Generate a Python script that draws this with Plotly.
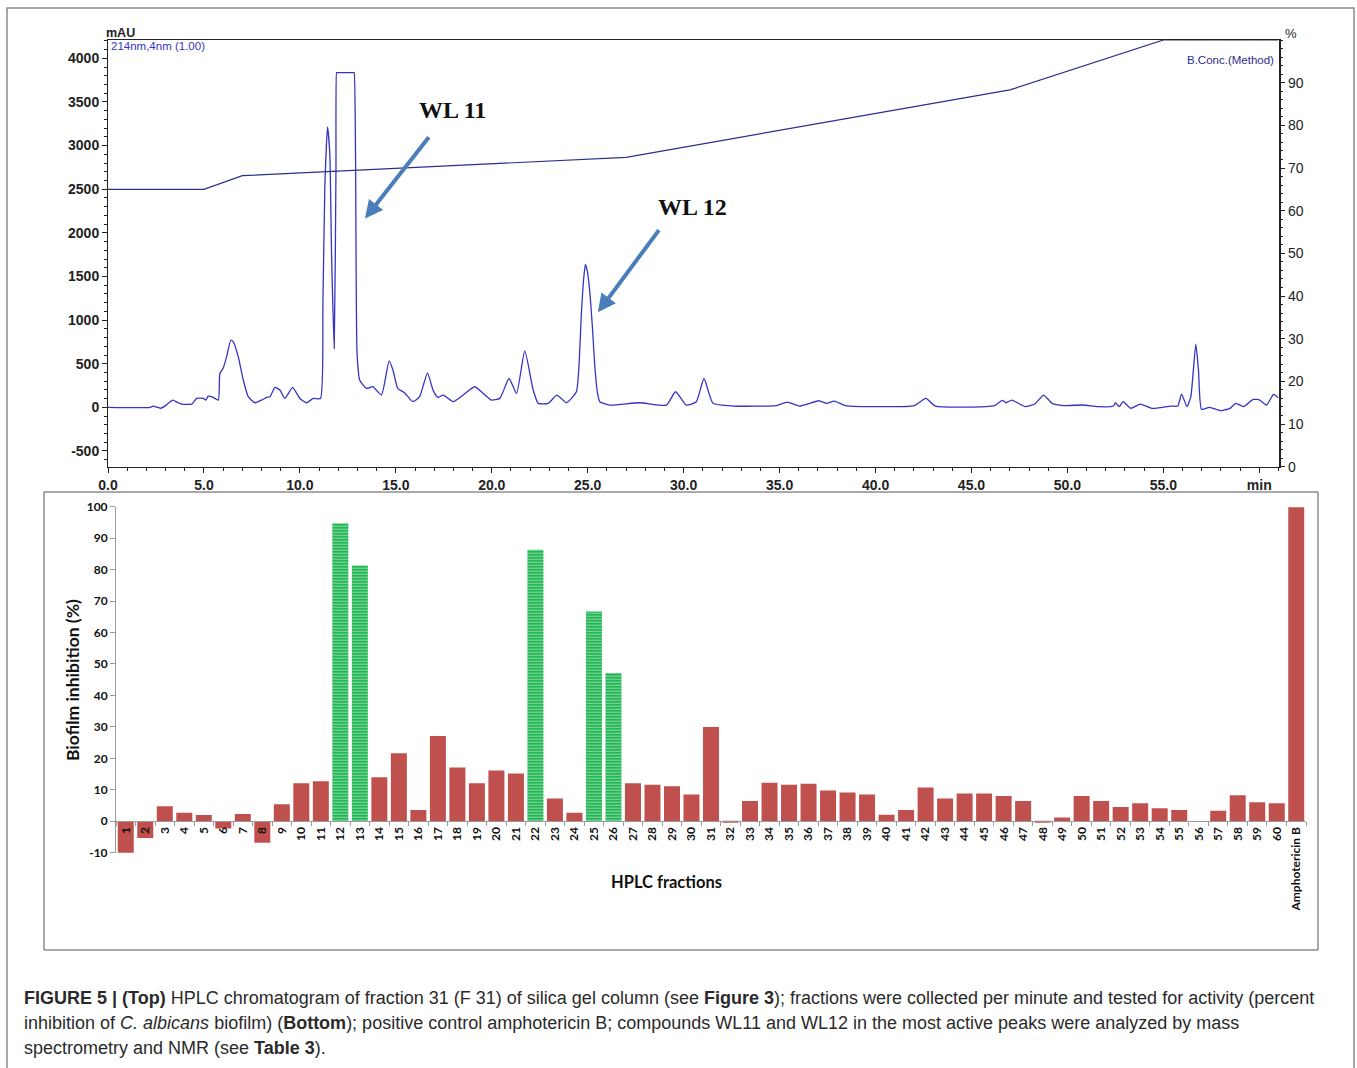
import plotly.graph_objects as go

W, H = 1357, 1068

# ---------------- DATA ----------------
# HPLC chromatogram (214 nm), retention time [min] vs absorbance [mAU]
chrom_time = [0, 2.2, 2.35, 2.5, 2.75, 3.0, 3.37, 3.6, 3.84, 4.37, 4.62, 4.97, 5.1, 5.22, 5.48,
              5.75, 5.83, 6.0, 6.18, 6.4, 6.53, 6.79, 7.05, 7.31, 7.66, 8.0, 8.26, 8.44, 8.7,
              8.96, 9.22, 9.62, 10.0, 10.35, 10.7, 11.07, 11.2, 11.3, 11.44, 11.56, 11.65, 11.79,
              11.88, 11.91, 11.93, 12.81, 12.83, 12.9, 12.98, 13.12, 13.47, 13.8, 14.25, 14.65,
              14.85, 15.1, 15.45, 15.89, 16.24, 16.65, 16.94, 17.2, 17.47, 17.99, 18.51, 19.11,
              19.55, 19.98, 20.42, 20.9, 21.29, 21.72, 22.16, 22.42, 22.94, 23.4, 23.89, 24.41,
              24.55, 24.67, 24.8, 24.88, 24.98, 25.1, 25.25, 25.36, 25.5, 25.63, 26.15, 27.71,
              29.1, 29.58, 30.14, 30.66, 31.06, 31.53, 32.57, 34.83, 35.4, 36.03, 37.04, 37.44,
              37.84, 38.44, 42.02, 42.62, 43.12, 46.21, 46.61, 46.8, 47.1, 47.8, 48.3, 48.76,
              49.2, 49.8, 50.8, 51.6, 52.4, 52.5, 52.7, 52.9, 53.3, 53.8, 54.4, 55.4, 55.75,
              55.95, 56.23, 56.43, 56.69, 56.83, 56.99, 57.39, 57.98, 58.18, 58.48, 58.78,
              59.18, 59.68, 60.02, 60.38, 60.74, 60.98]
chrom_mau = [0, 0, 15, 5, -10, 20, 83, 60, 38, 38, 102, 102, 83, 129, 114,
             83, 388, 449, 579, 769, 750, 579, 312, 122, 53, 83, 114, 122, 229,
             198, 102, 229, 102, 53, 102, 102, 1188, 2521, 3215, 2903, 1760, 674,
             2712, 3836, 3836, 3836, 3836, 2903, 617, 312, 218, 237, 141, 533,
             428, 218, 168, 65, 122, 396, 198, 114, 141, 65, 141, 236,
             160, 84, 103, 331, 160, 647, 198, 46, 46, 141, 53, 179,
             500, 1074, 1500, 1638, 1560, 1341, 900, 503, 180, 65, 26, 53,
             26, 179, 26, 65, 331, 46, 15, 21, 61, 15, 76, 46,
             72, 21, 21, 102, 15, 21, 80, 53, 84, 8, 38, 141,
             46, 21, 27, 8, 15, 53, 8, 65, -11, 38, -11, 15, 15,
             152, 8, 122, 723, 426, -23, 0, -38, -30, -11, 46,
             8, 91, 84, 27, 148, 110]

# Solvent B concentration (method gradient) [%]
grad_time = [0, 5, 7, 27, 47, 55, 61]
grad_pct = [65, 65, 68.2, 72.5, 88.3, 100, 100]

# Chromatogram axis tick labels
x_tick_vals = [0, 5, 10, 15, 20, 25, 30, 35, 40, 45, 50, 55, 60]
x_tick_text = ["0.0", "5.0", "10.0", "15.0", "20.0", "25.0", "30.0", "35.0", "40.0",
               "45.0", "50.0", "55.0", "min"]
mau_tick_vals = [-500, 0, 500, 1000, 1500, 2000, 2500, 3000, 3500, 4000]
mau_tick_text = ["-500", "0", "500", "1000", "1500", "2000", "2500", "3000", "3500", "4000"]
pct_tick_vals = [0, 10, 20, 30, 40, 50, 60, 70, 80, 90]
pct_tick_text = ["0", "10", "20", "30", "40", "50", "60", "70", "80", "90"]

# Biofilm inhibition per HPLC fraction [%]
fractions = [str(i) for i in range(1, 61)] + ["Amphotericin B"]
inhibition = [-10.1, -5.3, 4.8, 2.7, 2.0, -2.3, 2.3, -6.8, 5.4, 12.1,
              12.7, 94.7, 81.3, 14.0, 21.6, 3.6, 27.1, 17.1, 12.1, 16.1,
              15.2, 86.3, 7.2, 2.7, 66.7, 47.1, 12.1, 11.6, 11.1, 8.5,
              30.0, -0.4, 6.4, 12.2, 11.6, 11.9, 9.8, 9.1, 8.5, 2.1,
              3.6, 10.7, 7.2, 8.8, 8.8, 8.0, 6.4, -0.4, 1.2, 8.0,
              6.4, 4.5, 5.7, 4.1, 3.6, 0.0, 3.3, 8.3, 6.0, 5.7,
              99.8]
active_fractions = ["12", "13", "22", "25", "26"]
inh_tick_vals = [-10, 0, 10, 20, 30, 40, 50, 60, 70, 80, 90, 100]
inh_tick_text = ["-10", "0", "10", "20", "30", "40", "50", "60", "70", "80", "90", "100"]

# ---------------- STYLE ----------------
BLUE = "#3434C6"
NAVY = "#2D2D8E"
RED = "#C0504D"
GREEN = "#16B24C"
ARROW = "#4A7EBB"
AX = "#222222"
GRAY = "#9A9A9A"


def px_x(p):
    return p / W


def px_y(p):
    return 1 - p / H


top_xdom = [px_x(108), px_x(1278.5)]
top_ydom = [px_y(466.7), px_y(40)]
bot_xdom = [px_x(116), px_x(1306)]
bot_ydom = [px_y(852.7), px_y(506.7)]
bot_yrange = [-10, 100]
zero_pos = bot_ydom[0] + (bot_ydom[1] - bot_ydom[0]) * (0 - bot_yrange[0]) / (bot_yrange[1] - bot_yrange[0])

fig = go.Figure()

fig.add_trace(go.Scatter(x=chrom_time, y=chrom_mau, mode="lines",
                         line=dict(color=BLUE, width=1.3, shape="spline", smoothing=0.5),
                         xaxis="x", yaxis="y", showlegend=False, hoverinfo="skip"))
fig.add_trace(go.Scatter(x=grad_time, y=grad_pct, mode="lines",
                         line=dict(color=NAVY, width=1.2), xaxis="x", yaxis="y2",
                         showlegend=False, hoverinfo="skip"))

red_vals = [None if f in active_fractions else v for f, v in zip(fractions, inhibition)]
green_vals = [v if f in active_fractions else None for f, v in zip(fractions, inhibition)]

fig.add_trace(go.Bar(x=fractions, y=red_vals, marker=dict(color=RED, line=dict(width=0)),
                     xaxis="x2", yaxis="y3", showlegend=False, hoverinfo="skip"))
fig.add_trace(go.Bar(x=fractions, y=green_vals,
                     marker=dict(color=GREEN, line=dict(width=0),
                                 pattern=dict(shape="-", fgcolor="white", bgcolor=GREEN,
                                              size=3, solidity=0.4)),
                     xaxis="x2", yaxis="y3", showlegend=False, hoverinfo="skip"))

top_tickfont = dict(family="Liberation Sans, Arial, sans-serif", size=14, color=AX, weight="bold")
bot_tickfont = dict(family="Lato, Calibri, sans-serif", size=12, color="#111111", weight="bold")

fig.update_layout(
    width=W, height=H,
    margin=dict(l=0, r=0, t=0, b=0, pad=0, autoexpand=False),
    paper_bgcolor="white", plot_bgcolor="white",
    barmode="overlay", bargap=0.18,
    xaxis=dict(domain=top_xdom, range=[0, 61], anchor="y",
               tickmode="array", tickvals=x_tick_vals, ticktext=x_tick_text,
               ticks="outside", ticklen=5, tickcolor=AX, tickwidth=1,
               showline=True, linecolor=AX, linewidth=1, mirror=True,
               showgrid=False, zeroline=False, tickfont=top_tickfont, automargin=False,
               minor=dict(tick0=0, dtick=1, ticks="outside", ticklen=3, tickcolor=AX)),
    yaxis=dict(domain=top_ydom, range=[-680, 4210], anchor="x",
               tickmode="array", tickvals=mau_tick_vals, ticktext=mau_tick_text,
               ticks="outside", ticklen=5, tickcolor=AX,
               showline=True, linecolor=AX, linewidth=1,
               showgrid=False, zeroline=False, tickfont=top_tickfont, automargin=False,
               minor=dict(tick0=0, dtick=100, ticks="outside", ticklen=3, tickcolor=AX)),
    yaxis2=dict(overlaying="y", side="right", anchor="x", range=[0, 100],
                tickmode="array", tickvals=pct_tick_vals, ticktext=pct_tick_text,
                ticks="outside", ticklen=5, tickcolor=AX,
                showline=True, linecolor=AX, linewidth=1.5, automargin=False,
                showgrid=False, zeroline=False,
                tickfont=dict(family="Liberation Sans, Arial, sans-serif", size=14, color=AX),
                minor=dict(tick0=0, dtick=2, ticks="outside", ticklen=3, tickcolor=AX)),
    xaxis2=dict(domain=bot_xdom, type="category", anchor="free", position=zero_pos,
                tickangle=-90, ticks="outside", tickson="boundaries", ticklen=4,
                tickcolor=GRAY, showline=True, linecolor=GRAY, linewidth=1, automargin=False,
                showgrid=False, zeroline=False, tickfont=bot_tickfont),
    yaxis3=dict(domain=bot_ydom, range=bot_yrange, anchor="x2",
                tickmode="array", tickvals=inh_tick_vals, ticktext=inh_tick_text,
                ticks="outside", ticklen=5, tickcolor=GRAY,
                showline=True, linecolor=GRAY, linewidth=1, automargin=False,
                showgrid=False, zeroline=False, tickfont=bot_tickfont),
)


def label(text, x, y, size, color="#111111", family="Liberation Sans, Arial, sans-serif",
          xanchor="center", weight="normal", angle=0):
    return dict(text=text, x=px_x(x), y=px_y(y), xref="paper", yref="paper",
                xanchor=xanchor, yanchor="middle", showarrow=False, textangle=angle,
                font=dict(family=family, size=size, color=color, weight=weight))


annotations = [
    label("mAU", 120, 33, 12.5, AX, weight="bold"),
    label("214nm,4nm (1.00)", 109, 46, 11.5, BLUE, xanchor="left"),
    label("%", 1291, 34, 13, AX),
    label("B.Conc.(Method)", 1276, 60, 11.5, NAVY, xanchor="right"),
    label("<b>WL 11</b>", 452, 110, 24, family="Liberation Serif, Times New Roman, serif"),
    label("<b>WL 12</b>", 692, 207, 24, family="Liberation Serif, Times New Roman, serif"),
    # arrows
    dict(text="", x=13.39, y=2163, ax=16.78, ay=3112, xref="x", yref="y", axref="x", ayref="y",
         showarrow=True, arrowhead=2, arrowsize=0.9, arrowwidth=4, arrowcolor=ARROW),
    dict(text="", x=25.53, y=1089, ax=28.77, ay=2049, xref="x", yref="y", axref="x", ayref="y",
         showarrow=True, arrowhead=2, arrowsize=0.9, arrowwidth=4, arrowcolor=ARROW),
    # bar chart titles
    label("Biofilm inhibition (%)", 72, 680, 17.5, family="Lato, Calibri, sans-serif",
          weight="bold", angle=-90),
    label("HPLC fractions", 666, 882, 16.5,
          family="Liberation Sans Narrow, Lato, sans-serif", weight="bold"),
]

caption_lines = [
    "<b>FIGURE 5 | (Top)</b> HPLC chromatogram of fraction 31 (F 31) of silica gel column (see "
    "<b>Figure 3</b>); fractions were collected per minute and tested for activity (percent",
    "inhibition of <i>C. albicans</i> biofilm) (<b>Bottom</b>); positive control amphotericin B; "
    "compounds WL11 and WL12 in the most active peaks were analyzed by mass",
    "spectrometry and NMR (see <b>Table 3</b>).",
]
for i, line in enumerate(caption_lines):
    annotations.append(label(line, 22, 998 + 25 * i, 18, "#2a2a2a", xanchor="left"))

fig.update_layout(annotations=annotations)

fig.update_layout(shapes=[
    dict(type="rect", xref="paper", yref="paper", x0=px_x(7), x1=px_x(1354),
         y0=-0.05, y1=px_y(8), line=dict(color="#8a8a8a", width=1.5), layer="below"),
    dict(type="rect", xref="paper", yref="paper", x0=px_x(44), x1=px_x(1318),
         y0=px_y(950), y1=px_y(492), line=dict(color="#555555", width=1), layer="below"),
])

fig.write_html("out.html", config={"displayModeBar": False},
               post_script="document.body.style.margin='0';"
                           "document.body.style.overflow='hidden';")
